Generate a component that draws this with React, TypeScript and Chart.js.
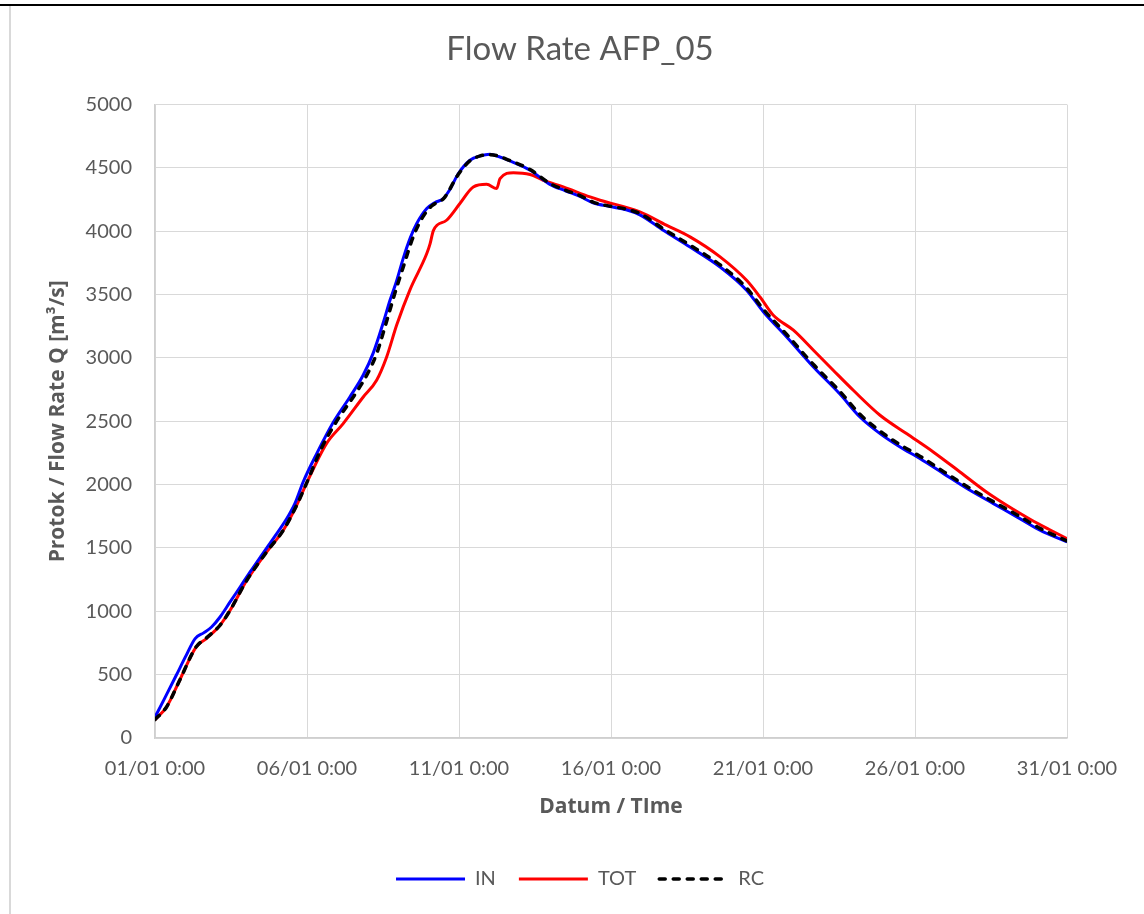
import React, { useEffect, useRef } from "react";
import { Chart, registerables } from "chart.js";

Chart.register(...registerables);

const chartTitle = "Flow Rate AFP_05";
const xAxisTitle = "Datum / TIme";
const yAxisTitle = "Protok / Flow Rate Q [m³/s]";
const xTickLabels = ["01/01 0:00", "06/01 0:00", "11/01 0:00", "16/01 0:00", "21/01 0:00", "26/01 0:00", "31/01 0:00"];

// IN (blue)
const inDays = [0, 0.3, 0.7, 1.0, 1.32, 1.6, 1.86, 2.14, 2.47, 2.8, 3.13, 3.5, 3.89, 4.33, 4.6, 4.88, 5.32, 5.86, 6.41, 6.85, 7.18, 7.51, 7.73, 7.95, 8.17, 8.4, 8.61, 8.94, 9.2, 9.48, 9.7, 9.98, 10.36, 10.7, 11.02, 11.3, 11.68, 12.34, 12.99, 13.5, 13.98, 14.41, 14.97, 15.5, 15.95, 16.72, 17.6, 18.59, 19.46, 20.01, 20.78, 21.66, 22.53, 23.19, 23.85, 24.51, 25.16, 25.94, 26.71, 27.58, 28.45, 29.11, 30];
const inValues = [165, 305, 495, 640, 785, 830, 876, 955, 1074, 1192, 1311, 1440, 1574, 1730, 1850, 2025, 2245, 2490, 2692, 2865, 3040, 3280, 3455, 3610, 3790, 3950, 4061, 4179, 4225, 4258, 4330, 4456, 4561, 4595, 4608, 4590, 4555, 4482, 4370, 4320, 4275, 4225, 4195, 4170, 4130, 4008, 3876, 3718, 3535, 3365, 3166, 2929, 2715, 2534, 2403, 2297, 2206, 2087, 1969, 1850, 1732, 1640, 1548];

// TOT (red)
const totDays = [0, 0.38, 0.8, 1.35, 1.69, 2.14, 2.47, 3.02, 3.67, 4.22, 4.66, 4.98, 5.64, 6.19, 6.85, 7.29, 7.62, 7.95, 8.39, 8.94, 9.05, 9.16, 9.59, 10.03, 10.47, 10.91, 11.24, 11.35, 11.79, 12.34, 12.77, 13.43, 14.31, 14.64, 15.95, 16.82, 17.6, 18.59, 19.46, 19.9, 20.34, 21.0, 21.66, 22.31, 22.97, 23.85, 24.72, 25.6, 26.48, 27.35, 28.23, 28.8, 29.4, 30];
const totValues = [145, 245, 450, 718, 785, 890, 1008, 1245, 1468, 1640, 1837, 2008, 2324, 2482, 2692, 2824, 3008, 3260, 3540, 3824, 3903, 4008, 4087, 4219, 4350, 4371, 4337, 4416, 4463, 4448, 4403, 4350, 4271, 4245, 4153, 4048, 3956, 3798, 3613, 3482, 3337, 3219, 3061, 2903, 2745, 2548, 2403, 2258, 2100, 1942, 1805, 1725, 1648, 1574];

// RC (black dashed)
const rcDays = [0, 0.38, 0.8, 1.35, 1.69, 2.14, 2.47, 3.02, 3.67, 4.22, 4.66, 4.98, 5.5, 6.0, 6.6, 7.0, 7.3, 7.62, 7.89, 8.17, 8.5, 8.8, 9.1, 9.5, 9.98, 10.36, 10.7, 11.02, 11.68, 12.34, 12.99, 13.5, 13.98, 14.41, 14.97, 15.5, 15.95, 16.72, 17.6, 18.59, 19.46, 20.01, 20.78, 21.66, 22.53, 23.19, 23.85, 24.51, 25.16, 25.94, 26.71, 27.58, 28.45, 29.11, 30];
const rcValues = [145, 245, 450, 718, 790, 890, 1008, 1245, 1468, 1640, 1837, 2008, 2300, 2510, 2720, 2880, 3040, 3290, 3510, 3720, 3960, 4110, 4200, 4260, 4450, 4556, 4595, 4605, 4558, 4487, 4378, 4325, 4282, 4230, 4198, 4175, 4140, 4020, 3890, 3735, 3552, 3385, 3185, 2948, 2735, 2555, 2422, 2315, 2225, 2103, 1985, 1865, 1748, 1655, 1555];

const toPoints = (xs: number[], ys: number[]) => xs.map((x, i) => ({ x, y: ys[i] }));

const FONT = "Lato, 'Open Sans', sans-serif";
const TITLE_FONT = "'Open Sans', Lato, sans-serif";
const TEXT = "#595959";

export default function App() {
  const canvasRef = useRef<HTMLCanvasElement | null>(null);

  useEffect(() => {
    if (!canvasRef.current) return;
    const chart = new Chart(canvasRef.current, {
      type: "line",
      data: {
        datasets: [
          {
            label: "IN",
            data: toPoints(inDays, inValues),
            borderColor: "#0000FF",
            backgroundColor: "#0000FF",
            borderWidth: 3,
            pointRadius: 0,
            cubicInterpolationMode: "monotone",
            order: 1,
          },
          {
            label: "TOT",
            data: toPoints(totDays, totValues),
            borderColor: "#FF0000",
            backgroundColor: "#FF0000",
            borderWidth: 3,
            pointRadius: 0,
            cubicInterpolationMode: "monotone",
            order: 2,
          },
          {
            label: "RC",
            data: toPoints(rcDays, rcValues),
            borderColor: "#000000",
            backgroundColor: "#000000",
            borderWidth: 3.5,
            borderDash: [6, 8],
            borderCapStyle: "round",
            pointRadius: 0,
            cubicInterpolationMode: "monotone",
            order: 0,
          },
        ],
      },
      options: {
        responsive: false,
        animation: false,
        events: [],
        layout: { padding: { left: 16, right: 0, top: 0, bottom: 15 } },
        plugins: {
          title: {
            display: true,
            text: chartTitle,
            color: TEXT,
            font: { family: FONT, size: 33, weight: "normal" },
            padding: { top: 30, bottom: 35 },
          },
          legend: {
            display: true,
            position: "bottom",
            labels: {
              color: TEXT,
              font: { family: FONT, size: 20 },
              usePointStyle: true,
              pointStyle: "line",
              pointStyleWidth: 69,
              padding: 23,
              sort: (a: any, b: any) => a.datasetIndex - b.datasetIndex,
              generateLabels: (c: any) => {
                const items = (Chart.defaults as any).plugins.legend.labels.generateLabels(c);
                return items.map((it: any) => {
                  const ds = c.data.datasets[it.datasetIndex];
                  return {
                    ...it,
                    lineWidth: ds.borderWidth,
                    lineDash: ds.borderDash || [],
                    lineCap: ds.borderCapStyle || "butt",
                    pointStyle: "line",
                  };
                });
              },
            },
          },
          tooltip: { enabled: false },
        },
        scales: {
          x: {
            type: "linear",
            min: 0,
            max: 30,
            afterFit: (scale: any) => {
              scale.height = 108;
            },
            ticks: {
              stepSize: 5,
              autoSkip: false,
              maxRotation: 0,
              color: TEXT,
              padding: 19,
              font: { family: FONT, size: 20 },
              callback: (v: any) => xTickLabels[Math.round(Number(v) / 5)] ?? "",
            },
            grid: { color: "#d9d9d9", lineWidth: 1, drawTicks: false },
            border: { color: "#cfcfcf", width: 1.5 },
            title: {
              display: true,
              text: xAxisTitle,
              color: TEXT,
              font: { family: TITLE_FONT, size: 21, weight: "bold" },
              padding: { top: 0, bottom: 26 },
            },
          },
          y: {
            min: 0,
            max: 5000,
            afterFit: (scale: any) => {
              scale.width = 139;
            },
            ticks: {
              stepSize: 500,
              color: TEXT,
              padding: 23,
              font: { family: FONT, size: 20 },
              callback: (v: any) => String(v),
            },
            grid: { color: "#d9d9d9", lineWidth: 1, drawTicks: false },
            border: { color: "#cfcfcf", width: 1.5 },
            title: {
              display: true,
              text: yAxisTitle,
              color: TEXT,
              font: { family: TITLE_FONT, size: 21, weight: "bold" },
              padding: { top: 29, bottom: 0 },
            },
          },
          rightSpace: {
            type: "linear",
            position: "right",
            display: true,
            min: 0,
            max: 1,
            afterFit: (scale: any) => {
              scale.width = 77;
            },
            ticks: { display: false },
            grid: { display: false, drawTicks: false },
            border: { display: false },
            title: { display: false },
          },
        },
      },
    } as any);
    return () => chart.destroy();
  }, []);

  return (
    <div style={{ position: "absolute", left: 0, top: 0, width: 1144, height: 914, background: "#fff", overflow: "hidden" }}>
      <canvas ref={canvasRef} width={1144} height={914} style={{ position: "absolute", left: 0, top: 0, width: 1144, height: 914 }} />
      <div style={{ position: "absolute", left: 0, top: 4, width: 1144, height: 2, background: "#000" }} />
      <div style={{ position: "absolute", left: 9, top: 6, width: 2, height: 908, background: "#d9d9d9" }} />
    </div>
  );
}
